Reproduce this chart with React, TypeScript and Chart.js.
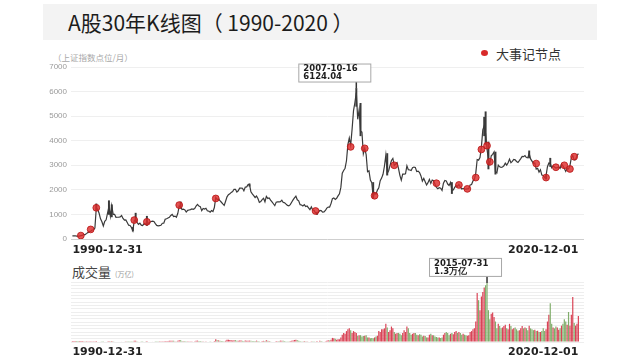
import React, { useEffect, useRef } from 'react';
import { Chart, registerables } from 'chart.js';

Chart.register(...registerables);

// ---------- categories ----------
const firstMonth = '1990-12';
const monthLabels: string[] = [firstMonth];
for (let y = 1991; y <= 2020; y++) {
  for (let m = 1; m <= 12; m++) monthLabels.push(`${y}-${m < 10 ? '0' + m : m}`);
}
const xTickLabels = ['1990-12-31', '2020-12-01'];
const xTickMonths = ['1990-12', '2020-12'];

// ---------- 上证指数 monthly close ----------
const monthlyClose: number[] = [
  127.61,
  129.97, 133.05, 120.19, 113.94, 114.83, 137.56, 145.86, 180.92, 180.19, 218.64, 259.6, 292.75,
  313.24, 365.39, 371.69, 443.34, 1266.49, 1195.46, 1048.49, 820.95, 703.08, 531.45, 720.05, 780.39,
  1048.06, 1316.04, 929.23, 1358.78, 1003.6, 1005.23, 881.18, 885.25, 888.17, 895.11, 954.43, 833.8,
  772.35, 778.14, 671.67, 561.68, 551.43, 467.16, 333.92, 750.25, 784.0, 678.05, 596.1, 647.87,
  563.12, 549.23, 631.41, 595.34, 700.51, 629.98, 678.59, 712.19, 729.18, 712.57, 623.66, 555.29,
  537.35, 546.84, 557.05, 640.45, 645.06, 801.6, 825.23, 855.88, 881.98, 958.46, 1000.56, 917.02,
  933.67, 888.14, 1047.68, 1345.99, 1307.74, 1199.06, 1216.64, 1186.88, 1097.39, 1168.36, 1181.25, 1194.1,
  1222.36, 1206.53, 1243.28, 1343.44, 1411.18, 1339.21, 1315.45, 1150.34, 1242.86, 1217.29, 1248.78, 1146.7,
  1134.67, 1090.08, 1158.05, 1120.58, 1279.32, 1689.42, 1601.33, 1627.42, 1557.97, 1495.8, 1428.93, 1366.58,
  1534.99, 1714.59, 1800.22, 1836.32, 1894.55, 1928.1, 2023.17, 2021.17, 1910.16, 1961.28, 2070.6, 2073.48,
  2065.59, 1959.18, 2112.77, 2119.18, 2214.26, 2218.03, 1920.32, 1834.2, 1763.95, 1689.42, 1746.68, 1645.97,
  1490.93, 1524.64, 1603.43, 1654.89, 1515.73, 1732.85, 1651.45, 1669.74, 1581.62, 1507.57, 1434.69, 1357.65,
  1499.81, 1511.92, 1510.97, 1521.44, 1576.25, 1486.88, 1476.74, 1421.12, 1367.16, 1348.3, 1397.22, 1497.04,
  1590.73, 1675.07, 1741.62, 1595.59, 1555.91, 1399.16, 1386.2, 1342.06, 1396.7, 1320.54, 1340.77, 1266.5,
  1191.82, 1306.0, 1181.24, 1159.15, 1060.74, 1080.94, 1083.03, 1162.8, 1155.61, 1092.82, 1099.26, 1161.06,
  1258.05, 1299.03, 1298.3, 1440.22, 1641.3, 1672.21, 1612.73, 1658.64, 1752.42, 1837.99, 2099.29, 2675.47,
  2786.34, 2881.07, 3183.98, 3841.27, 4109.65, 3820.7, 4471.03, 5218.83, 5552.3, 5954.77, 4871.78, 5261.56,
  4383.39, 4348.54, 3472.71, 3693.11, 3433.35, 2736.1, 2775.72, 2397.37, 2293.78, 1728.79, 1871.16, 1820.81,
  1990.66, 2082.85, 2373.21, 2477.57, 2632.93, 2959.36, 3412.06, 2667.74, 2779.43, 2995.85, 3195.3, 3277.14,
  2989.29, 3051.94, 3109.1, 2870.61, 2592.15, 2398.37, 2637.5, 2638.8, 2655.66, 2978.83, 2820.18, 2808.08,
  2790.69, 2905.05, 2928.11, 2911.51, 2743.47, 2762.08, 2701.73, 2567.34, 2359.22, 2468.25, 2333.41, 2199.42,
  2292.61, 2428.49, 2262.79, 2396.32, 2372.23, 2225.43, 2103.63, 2047.52, 2086.17, 2068.88, 1980.12, 2269.13,
  2385.42, 2365.59, 2236.62, 2177.91, 2300.59, 1979.21, 1993.8, 2098.38, 2174.67, 2141.61, 2220.5, 2115.98,
  2033.08, 2056.3, 2033.31, 2026.36, 2039.21, 2048.33, 2201.56, 2217.2, 2363.87, 2420.18, 2682.83, 3234.68,
  3210.36, 3310.3, 3747.9, 4441.66, 4611.74, 4277.22, 3663.73, 3205.99, 3052.78, 3382.56, 3445.4, 3539.18,
  2737.6, 2687.98, 3003.92, 2938.32, 2916.62, 2929.61, 2979.34, 3085.49, 3004.7, 3100.49, 3250.03, 3103.64,
  3159.17, 3241.73, 3222.51, 3154.66, 3117.18, 3192.43, 3273.03, 3360.81, 3348.94, 3393.34, 3317.19, 3307.17,
  3480.83, 3259.41, 3168.9, 3082.23, 3095.47, 2847.42, 2876.4, 2725.25, 2821.35, 2602.78, 2588.19, 2493.9,
  2584.57, 2940.95, 3090.76, 3078.34, 2898.7, 2978.88, 2932.51, 2886.24, 2905.19, 2929.06, 2871.98, 3050.12,
  2976.53, 2880.3, 2750.3, 2860.08, 2852.35, 2984.67, 3310.01, 3395.68, 3218.05, 3224.53, 3391.76, 3473.07,
];

// ---------- K-line shadows (low / high) for notable months ----------
const wickMonths = ['1992-05', '1993-02', '1993-04', '1994-07', '1994-09', '1995-05', '1997-05', '2001-06', '2005-06', '2007-10', '2008-01', '2008-10', '2009-08', '2013-06', '2015-05', '2015-06', '2015-08', '2016-01', '2018-01', '2019-01', '2019-04'];
const wickLows = [1170, 1000, 900, 325, 700, 550, 1250, 2150, 998, 5400, 4200, 1664, 2600, 1849, 4200, 3850, 2850, 2638, 3300, 2440, 2950];
const wickHighs = [1429, 1558, 1392, 470, 1052, 926, 1510, 2245, 1080, 6124.04, 5522, 2300, 3478, 2300, 4958, 5178, 3950, 3540, 3587, 2600, 3288];

// ---------- 大事记节点 ----------
const eventMonths = ['1991-06', '1992-01', '1992-05', '1994-08', '1995-05', '1997-04', '1999-06', '2005-05', '2007-06', '2008-04', '2008-11', '2010-01', '2012-07', '2013-11', '2014-05', '2014-11', '2015-03', '2015-07', '2015-09', '2018-06', '2019-01', '2019-08', '2020-02', '2020-06', '2020-09'];
const eventValues = [140, 390, 1270, 770, 700, 1380, 1650, 1140, 3750, 3690, 1760, 3000, 2270, 2200, 2040, 2500, 3645, 3800, 3140, 3070, 2500, 2920, 3000, 2850, 3350];

// ---------- 成交量 (万亿) ----------
const monthlyVolume: number[] = [
  0.001,
  0.001, 0.001, 0.001, 0.001, 0.001, 0.002, 0.002, 0.003, 0.003, 0.004, 0.004, 0.005,
  0.005, 0.006, 0.006, 0.008, 0.02, 0.012, 0.01, 0.01, 0.008, 0.008, 0.01, 0.012,
  0.015, 0.02, 0.015, 0.02, 0.015, 0.012, 0.01, 0.012, 0.01, 0.01, 0.012, 0.012,
  0.01, 0.008, 0.008, 0.008, 0.006, 0.006, 0.008, 0.03, 0.025, 0.015, 0.012, 0.01,
  0.008, 0.008, 0.01, 0.008, 0.02, 0.012, 0.012, 0.012, 0.012, 0.01, 0.008, 0.006,
  0.006, 0.005, 0.008, 0.015, 0.015, 0.02, 0.018, 0.02, 0.025, 0.03, 0.03, 0.025,
  0.015, 0.015, 0.025, 0.04, 0.04, 0.02, 0.018, 0.02, 0.015, 0.018, 0.015, 0.015,
  0.015, 0.012, 0.018, 0.025, 0.03, 0.02, 0.02, 0.015, 0.015, 0.012, 0.015, 0.012,
  0.01, 0.008, 0.012, 0.01, 0.02, 0.06, 0.04, 0.035, 0.03, 0.02, 0.02, 0.015,
  0.03, 0.05, 0.05, 0.045, 0.04, 0.035, 0.04, 0.04, 0.03, 0.03, 0.035, 0.035,
  0.025, 0.02, 0.035, 0.03, 0.03, 0.03, 0.025, 0.02, 0.02, 0.02, 0.03, 0.02,
  0.015, 0.012, 0.02, 0.025, 0.02, 0.04, 0.025, 0.02, 0.015, 0.012, 0.012, 0.012,
  0.02, 0.018, 0.02, 0.03, 0.03, 0.025, 0.02, 0.018, 0.015, 0.015, 0.02, 0.03,
  0.035, 0.045, 0.05, 0.04, 0.025, 0.02, 0.015, 0.015, 0.02, 0.015, 0.015, 0.012,
  0.01, 0.015, 0.015, 0.015, 0.012, 0.02, 0.012, 0.025, 0.02, 0.015, 0.012, 0.018,
  0.03, 0.04, 0.035, 0.05, 0.09, 0.08, 0.07, 0.05, 0.06, 0.06, 0.1, 0.16,
  0.2, 0.18, 0.24, 0.28, 0.3, 0.26, 0.2, 0.24, 0.22, 0.2, 0.14, 0.15,
  0.15, 0.12, 0.13, 0.14, 0.15, 0.1, 0.1, 0.08, 0.09, 0.08, 0.1, 0.12,
  0.14, 0.24, 0.22, 0.28, 0.28, 0.3, 0.4, 0.32, 0.22, 0.26, 0.34, 0.3,
  0.22, 0.18, 0.2, 0.2, 0.18, 0.15, 0.2, 0.26, 0.22, 0.34, 0.3, 0.2,
  0.16, 0.18, 0.2, 0.2, 0.16, 0.15, 0.17, 0.16, 0.12, 0.14, 0.13, 0.1,
  0.1, 0.16, 0.18, 0.15, 0.15, 0.12, 0.11, 0.1, 0.1, 0.09, 0.1, 0.16,
  0.2, 0.22, 0.2, 0.15, 0.18, 0.2, 0.17, 0.22, 0.24, 0.2, 0.22, 0.2,
  0.16, 0.18, 0.16, 0.15, 0.14, 0.15, 0.22, 0.24, 0.28, 0.3, 0.45, 1.08,
  0.92, 0.7, 1.0, 1.1, 1.2, 1.25, 1.3, 0.7, 0.5, 0.62, 0.65, 0.55,
  0.45, 0.3, 0.4, 0.35, 0.3, 0.32, 0.35, 0.38, 0.3, 0.28, 0.4, 0.35,
  0.28, 0.3, 0.32, 0.28, 0.25, 0.26, 0.3, 0.35, 0.3, 0.32, 0.3, 0.26,
  0.36, 0.3, 0.28, 0.26, 0.27, 0.24, 0.25, 0.22, 0.22, 0.24, 0.3, 0.24,
  0.28, 0.45, 0.6, 0.85, 0.4, 0.32, 0.3, 0.34, 0.32, 0.27, 0.3, 0.36,
  0.4, 0.5, 0.45, 0.38, 0.66, 0.36, 0.6, 0.99, 0.42, 0.36, 0.4, 0.57,
];

// ---------- callouts ----------
const priceCalloutMonth = '2007-10';
const priceCalloutValue = 6124.04;
const priceCalloutText = ['2007-10-16', '6124.04'];
const volCalloutMonth = '2015-07';
const volCalloutValue = 1.3;
const volCalloutText = ['2015-07-31', '1.3万亿'];

const idx = (m: string) => monthLabels.indexOf(m);

const RED = 'rgba(214,52,72,0.92)';
const GREEN = 'rgba(118,166,94,0.92)';

function makeCallout(id: string, month: string, value: number, text: string[]) {
  return {
    id,
    afterDatasetsDraw(chart: any) {
      const xs = chart.scales.x;
      const ys = chart.scales.y;
      const x = xs.getPixelForValue(idx(month));
      const y = ys.getPixelForValue(value);
      const w = 72;
      const h = 18;
      const left = x - 58;
      const top = y - 7 - h;
      const ctx = chart.ctx;
      ctx.save();
      ctx.strokeStyle = '#333';
      ctx.lineWidth = 1.5;
      ctx.beginPath();
      ctx.moveTo(x, top + h);
      ctx.lineTo(x, y);
      ctx.stroke();
      ctx.fillStyle = 'rgba(255,255,255,0.96)';
      ctx.fillRect(left + 0.5, top + 0.5, w, h);
      ctx.strokeStyle = '#a8a8a8';
      ctx.lineWidth = 1;
      ctx.strokeRect(left + 0.5, top + 0.5, w, h);
      ctx.fillStyle = '#1e1e1e';
      ctx.font = 'bold 8.5px "DejaVu Sans", sans-serif';
      ctx.textBaseline = 'middle';
      ctx.textAlign = 'left';
      ctx.fillText(text[0], left + 5, top + 5.5);
      ctx.fillText(text[1], left + 5, top + 13.5);
      ctx.restore();
    },
  };
}

const xAxis = (heightPx: number, pad: number) => ({
  type: 'linear' as const,
  min: -1,
  max: 364,
  offset: false,
  afterBuildTicks: (s: any) => {
    s.ticks = xTickMonths.map((m) => ({ value: idx(m) }));
  },
  afterFit: (s: any) => {
    s.height = heightPx;
  },
  ticks: {
    callback: (_v: any, i: number) => xTickLabels[i],
    align: 'inner' as const,
    autoSkip: false,
    maxRotation: 0,
    padding: pad,
    color: '#222',
    font: { family: '"DejaVu Sans", sans-serif', size: 11, weight: 'bold' as const },
  },
  grid: { display: false, drawTicks: false, offset: false },
  border: { display: false },
});

export default function App() {
  const priceRef = useRef<HTMLCanvasElement>(null);
  const volRef = useRef<HTMLCanvasElement>(null);

  useEffect(() => {
    Chart.defaults.font.family = '"Liberation Sans", Arial, sans-serif';
    const price = new Chart(priceRef.current!, {
      type: 'line',
      data: {
        datasets: [
          {
            type: 'line',
            data: eventMonths.map((m, i) => ({ x: idx(m), y: eventValues[i] })),
            showLine: false,
            pointRadius: 3.4,
            pointBackgroundColor: 'rgba(222,44,44,0.82)',
            pointBorderColor: 'rgba(185,25,25,0.85)',
            pointBorderWidth: 1,
            order: 0,
          } as any,
          {
            type: 'line',
            data: monthlyClose.map((v, i) => ({ x: i, y: v })),
            borderColor: '#3a3a3a',
            borderWidth: 1.2,
            pointRadius: 0,
            tension: 0,
            order: 1,
          } as any,
          {
            type: 'bar',
            data: wickMonths.map((m, i) => ({ x: idx(m), y: [wickLows[i], wickHighs[i]] })),
            backgroundColor: '#3a3a3a',
            barThickness: 1.3,
            order: 2,
          } as any,
        ],
      },
      options: {
        animation: false,
        responsive: false,
        events: [],
        layout: { padding: { left: 0, right: 56, top: 22, bottom: 0 } },
        plugins: { legend: { display: false }, tooltip: { enabled: false } },
        scales: {
          x: xAxis(21, 5) as any,
          y: {
            min: 0,
            max: 7000,
            afterFit: (s: any) => {
              s.width = 71;
            },
            ticks: {
              stepSize: 500,
              callback: (v: any) => (Number(v) % 1000 === 0 ? String(v) : ''),
              color: '#9a9a9a',
              padding: 4,
              font: { size: 8 },
            },
            grid: {
              drawTicks: false,
              color: (c: any) => (c.tick && c.tick.value === 0 ? '#cfcfcf' : '#efefef'),
            },
            border: { display: false },
          },
        },
      },
      plugins: [makeCallout('priceCallout', priceCalloutMonth, priceCalloutValue, priceCalloutText)],
    });

    const vol = new Chart(volRef.current!, {
      type: 'bar',
      data: {
        datasets: [
          {
            data: monthlyVolume.map((v, i) => ({ x: i, y: v })),
            backgroundColor: monthlyVolume.map((_, i) =>
              i === 0 || monthlyClose[i] >= monthlyClose[i - 1] ? RED : GREEN
            ),
            barPercentage: 0.85,
            categoryPercentage: 1,
          },
        ],
      },
      options: {
        animation: false,
        responsive: false,
        events: [],
        layout: { padding: { left: 0, right: 56, top: 30, bottom: 0 } },
        plugins: { legend: { display: false }, tooltip: { enabled: false } },
        scales: {
          x: xAxis(22, 4) as any,
          y: {
            min: 0,
            max: 1.32,
            afterFit: (s: any) => {
              s.width = 71;
            },
            ticks: { display: false, count: 19 },
            grid: { drawTicks: false, color: '#eeeeee' },
            border: { display: false },
          },
        },
      },
      plugins: [makeCallout('volCallout', volCalloutMonth, volCalloutValue, volCalloutText)],
    });

    return () => {
      price.destroy();
      vol.destroy();
    };
  }, []);

  const abs = (s: React.CSSProperties): React.CSSProperties => ({ position: 'absolute', ...s });

  return (
    <div
      style={{
        position: 'absolute',
        left: 0,
        top: 0,
        width: 640,
        height: 364,
        background: '#fff',
        overflow: 'hidden',
        fontFamily: '"Noto Sans CJK SC", "Noto Sans", sans-serif',
      }}
    >
      <div style={abs({ left: 43, top: 4, width: 554, height: 36, background: '#f3f3f3' })} />
      <div style={abs({ left: 68, top: 4, height: 36, lineHeight: '36px', fontSize: 21, color: '#1c1c1c', whiteSpace: 'nowrap' })}>
        A股30年K线图（ 1990-2020 ）
      </div>
      <div style={abs({ left: 53, top: 51, fontSize: 8.5, lineHeight: '12px', color: '#a8a8a8', whiteSpace: 'nowrap' })}>
        （上证指数点位/月）
      </div>
      <div style={abs({ left: 481, top: 50, width: 7, height: 6, borderRadius: '50%', background: '#d82a2a' })} />
      <div style={abs({ left: 496, top: 44.5, fontSize: 13, lineHeight: '17px', color: '#333', whiteSpace: 'nowrap' })}>
        大事记节点
      </div>
      <div style={abs({ left: 0, top: 45, width: 640, height: 215 })}>
        <canvas ref={priceRef} width={640} height={215} style={{ display: 'block' }} />
      </div>
      <div style={abs({ left: 72, top: 264, fontSize: 13, lineHeight: '16px', color: '#444', whiteSpace: 'nowrap' })}>
        成交量<span style={{ fontSize: 7, color: '#999', marginLeft: 4 }}>(万亿)</span>
      </div>
      <div style={abs({ left: 0, top: 252, width: 640, height: 112 })}>
        <canvas ref={volRef} width={640} height={112} style={{ display: 'block' }} />
      </div>
    </div>
  );
}
